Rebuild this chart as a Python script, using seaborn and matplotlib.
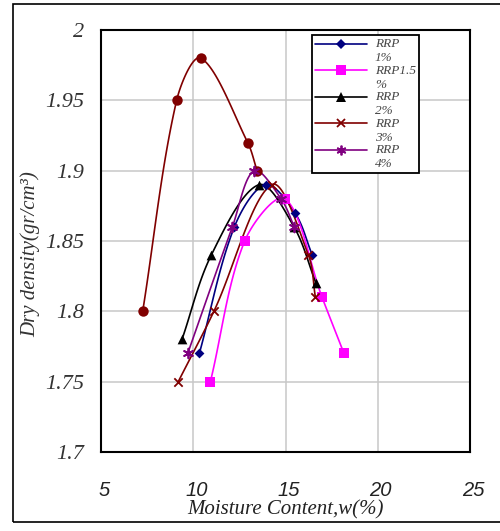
import numpy as np
import matplotlib
matplotlib.use("Agg")
import matplotlib.pyplot as plt
import matplotlib.transforms as mtransforms
from matplotlib.lines import Line2D
from matplotlib.patches import Rectangle
from matplotlib.legend_handler import HandlerLine2D
import seaborn as sns

# Moisture content (%) and dry density (g/cm3)
w_0 = [7.26, 9.10, 10.42, 12.95, 13.46]
d_0 = [1.80, 1.95, 1.98, 1.92, 1.90]
w_1 = [10.33, 12.23, 13.92, 15.51, 16.45]
d_1 = [1.77, 1.86, 1.89, 1.87, 1.84]
w_15 = [10.93, 12.79, 14.97, 16.98, 18.17]
d_15 = [1.75, 1.85, 1.88, 1.81, 1.77]
w_2 = [9.39, 10.98, 13.56, 15.46, 16.65]
d_2 = [1.78, 1.84, 1.89, 1.86, 1.82]
w_3 = [9.19, 11.12, 14.25, 16.24, 16.62]
d_3 = [1.75, 1.80, 1.89, 1.84, 1.81]
w_4 = [9.70, 12.12, 13.30, 14.76, 15.48]
d_4 = [1.77, 1.86, 1.90, 1.88, 1.86]

labels = ["RRP\n1%", "RRP1.5\n%", "RRP\n2%", "RRP\n3%", "RRP\n4%"]
x_ticks = [5, 10, 15, 20, 25]
y_ticks = [1.7, 1.75, 1.8, 1.85, 1.9, 1.95, 2.0]
y_tick_labels = ["1.7", "1.75", "1.8", "1.85", "1.9", "1.95", "2"]


def smooth(ax, xs, ys, n=30):
    # Excel-like smoothed line: cubic Bezier through the points,
    # computed on screen so the bends look the same as in the original
    p = ax.transData.transform(np.column_stack([xs, ys]))
    m = len(p)
    d = np.hypot(*np.diff(p, axis=0).T)
    t = np.linspace(0, 1, n)[:, None]
    out = []
    for i in range(m - 1):
        p1, p2 = p[i], p[i + 1]
        if i > 0:
            c1 = p1 + (p2 - p[i - 1]) * d[i] / (d[i - 1] + d[i]) / 3
        else:
            c1 = p1 + (p2 - p1) / 3
        if i < m - 2:
            c2 = p2 - (p[i + 2] - p1) * d[i] / (d[i] + d[i + 1]) / 3
        else:
            c2 = p2 - (p2 - p1) / 3
        seg = ((1 - t) ** 3 * p1 + 3 * (1 - t) ** 2 * t * c1
               + 3 * (1 - t) * t ** 2 * c2 + t ** 3 * p2)
        out.append(seg)
    out = ax.transData.inverted().transform(np.vstack(out))
    return out[:, 0], out[:, 1]


class TopLineHandler(HandlerLine2D):
    # put the legend line next to the first text line
    def create_artists(self, legend, orig_handle, xdescent, ydescent,
                       width, height, fontsize, trans):
        arts = super().create_artists(legend, orig_handle, xdescent, ydescent,
                                      width, height, fontsize, trans)
        for a in arts:
            a.set_ydata(np.asarray(a.get_ydata(), dtype=float) + 0.55 * fontsize)
        return arts


sns.set_theme(style="white")
plt.rcParams["font.family"] = ["Liberation Serif", "DejaVu Serif"]

fig = plt.figure(figsize=(5.0, 5.31), dpi=100)
ax = fig.add_axes([0.202, 0.149, 0.738, 0.7945])
ax.set_xlim(5, 25)
ax.set_ylim(1.7, 2.0)

series = [
    (w_0, d_0, "#800000", "o", 7.5, None),
    (w_1, d_1, "#000080", "D", 5, labels[0]),
    (w_15, d_15, "#FF00FF", "s", 7, labels[1]),
    (w_2, d_2, "black", "^", 7, labels[2]),
    (w_3, d_3, "#800000", "x", 6, labels[3]),
    (w_4, d_4, "#800080", (6, 2, 0), 7, labels[4]),
]

handles = []
for xs, ys, color, marker, ms, lab in series:
    sx, sy = smooth(ax, xs, ys)
    sns.lineplot(x=sx, y=sy, sort=False, estimator=None, color=color,
                 linewidth=1.2, ax=ax)
    filled = marker in ("o", "D", "s", "^")
    sns.scatterplot(x=xs, y=ys, marker=marker, s=ms ** 2, color=color,
                    edgecolor=color, linewidth=0 if filled else 1.3,
                    ax=ax, zorder=3)
    if lab is not None:
        handles.append(Line2D([0], [0], color=color, linewidth=1.2,
                              marker=marker, markersize=ms,
                              markeredgewidth=0 if filled else 1.3,
                              markerfacecolor=color, markeredgecolor=color,
                              label=lab))

ax.set_xticks(x_ticks)
ax.set_yticks(y_ticks)
ax.set_xticklabels([str(v) for v in x_ticks], fontsize=14.5,
                   family=["Liberation Sans"], style="italic", color="#222222")
ax.set_yticklabels(y_tick_labels, fontsize=16, style="italic", color="#333333")
ax.tick_params(axis="both", length=0)
ax.tick_params(axis="x", pad=21)
ax.tick_params(axis="y", pad=12)
shift = mtransforms.ScaledTranslation(3 / 100, 0, fig.dpi_scale_trans)
for lbl in ax.get_xticklabels():
    lbl.set_transform(lbl.get_transform() + shift)
ax.grid(True, color="#c8c8c8", linewidth=1.1)
for sp in ax.spines.values():
    sp.set_color("black")
    sp.set_linewidth(1.5)

ax.set_xlabel("Moisture Content,w(%)", fontsize=15, style="italic",
              labelpad=0, color="#222222")
ax.set_ylabel("Dry density(gr/cm³)", fontsize=15, style="italic",
              color="#333333")
ax.yaxis.set_label_coords(-0.165, 0.47)

leg = ax.legend(handles=handles, loc="upper left",
                bbox_to_anchor=(0.572, 0.988), borderaxespad=0,
                prop={"style": "italic", "size": 9.5},
                handler_map={Line2D: TopLineHandler()},
                handlelength=3.9, labelspacing=0.05, handletextpad=0.6,
                borderpad=0.25, fancybox=False, framealpha=1,
                edgecolor="black")
leg.get_frame().set_linewidth(1.3)
for t in leg.get_texts():
    t.set_color("#444444")

fig.patches.append(Rectangle((0.026, 0.017), 1.0, 0.975, transform=fig.transFigure,
                             fill=False, edgecolor="black", linewidth=1.2))

fig.savefig("out.png", dpi=100)
